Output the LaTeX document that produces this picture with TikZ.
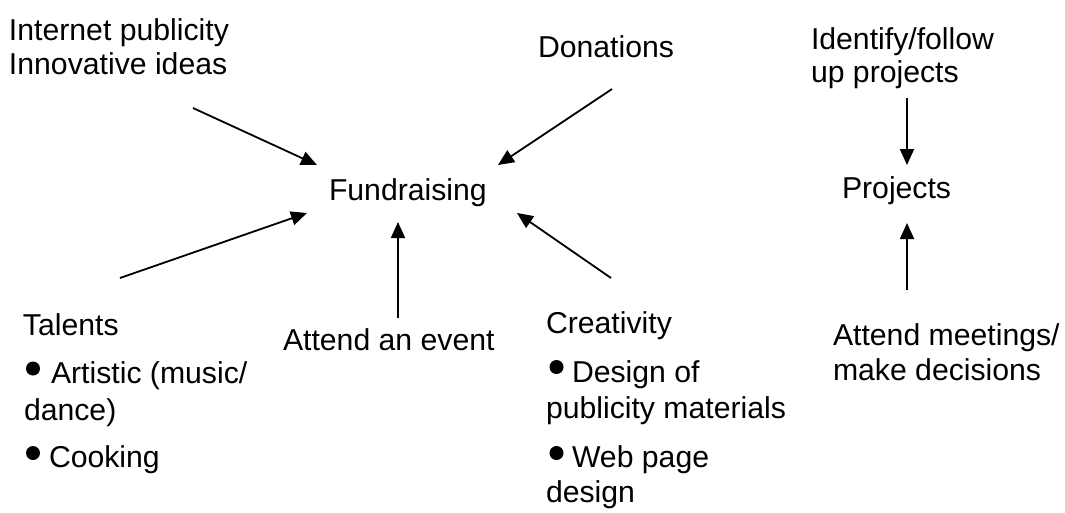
\documentclass[tikz,border=0pt]{standalone}
\usepackage{fontspec}
\setmainfont{Liberation Sans}
\usetikzlibrary{arrows.meta}
\begin{document}
\begin{tikzpicture}[x=1pt,y=-1pt,
  txt/.style={anchor=base west,inner sep=0pt,outer sep=0pt,font=\fontsize{30.2}{35}\selectfont},
  arr/.style={line width=1.8pt,-{Triangle[length=16pt,width=14pt]}},
  bul/.style={fill=black}]
\useasboundingbox[fill=white] (0,0) rectangle (1065,512);
% top left
\node[txt] (inet1) at (9,40) {Internet publicity};
\node[txt] (inet2) at (9,74) {Innovative ideas};
% donations
\node[txt] (don) at (538,57) {Donations};
% identify
\node[txt] (ident1) at (811,49) {Identify/follow};
\node[txt] (ident2) at (811,82) {up projects};
% centres
\node[txt] (fund) at (329,200) {Fundraising};
\node[txt] (proj) at (842,198) {Projects};
% talents
\node[txt] (tal) at (23,335) {Talents};
\node[txt] (tal1) at (51,383) {Artistic (music/};
\node[txt] (tal2) at (24,420) {dance)};
\node[txt] (tal3) at (49,467) {Cooking};
\fill[bul] (33,368.5) circle (7);
\fill[bul] (33,453) circle (7);
% event
\node[txt] (event) at (283,350) {Attend an event};
% creativity
\node[txt] (cre) at (546,333) {Creativity};
\node[txt] (cre1) at (572,382) {Design of};
\node[txt] (cre2) at (546,418) {publicity materials};
\node[txt] (cre3) at (572,467) {Web page};
\node[txt] (cre4) at (546,502) {design};
\fill[bul] (556.5,367) circle (7);
\fill[bul] (556.5,453) circle (7);
% meetings
\node[txt] (meet1) at (833,345) {Attend meetings/};
\node[txt] (meet2) at (833,380) {make decisions};
% arrow ends
\coordinate (a1s) at (193,108); \coordinate (a1e) at (317,165);
\coordinate (a2s) at (612,89);  \coordinate (a2e) at (498,165);
\coordinate (a3s) at (120,278); \coordinate (a3e) at (307,213);
\coordinate (a4s) at (398,318); \coordinate (a4e) at (398,222);
\coordinate (a5s) at (611,278); \coordinate (a5e) at (517,213);
\coordinate (a6s) at (907,98);  \coordinate (a6e) at (907,165);
\coordinate (a7s) at (907,290); \coordinate (a7e) at (907,223);
\draw[arr] (a1s) -- (a1e);
\draw[arr] (a2s) -- (a2e);
\draw[arr] (a3s) -- (a3e);
\draw[arr] (a4s) -- (a4e);
\draw[arr] (a5s) -- (a5e);
\draw[arr] (a6s) -- (a6e);
\draw[arr] (a7s) -- (a7e);
\end{tikzpicture}
\end{document}
